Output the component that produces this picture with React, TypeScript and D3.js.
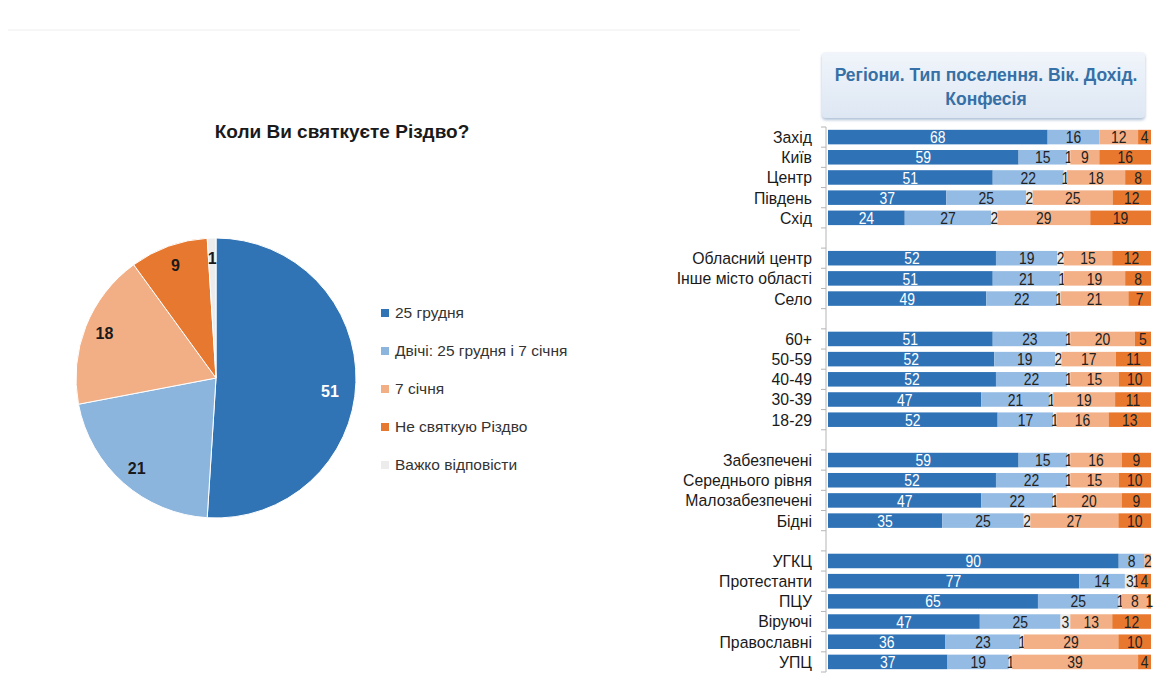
import React from 'react';
import * as d3 from 'd3';

// pie: "Коли Ви святкуєте Різдво?"
const pieLabels = ['25 грудня', 'Двічі: 25 грудня і 7 січня', '7 січня', 'Не святкую Різдво', 'Важко відповісти'];
const pieValues = [51, 21, 18, 9, 1];
const pieColors = ['#3174b5', '#8cb5de', '#f2ae85', '#e7782f', '#ececec'];

// stacked bars, null rows are the gaps between groups
const rowLabels = [
    'Захід', 'Київ', 'Центр', 'Південь', 'Схід', null,
    'Обласний центр', 'Інше місто області', 'Село', null,
    '60+', '50-59', '40-49', '30-39', '18-29', null,
    'Забезпечені', 'Середнього рівня', 'Малозабезпечені', 'Бідні', null,
    'УГКЦ', 'Протестанти', 'ПЦУ', 'Віруючі', 'Православні', 'УПЦ',
];
const dec25 = [68, 59, 51, 37, 24, null, 52, 51, 49, null, 51, 52, 52, 47, 52, null, 59, 52, 47, 35, null, 90, 77, 65, 47, 36, 37];
const twice = [16, 15, 22, 25, 27, null, 19, 21, 22, null, 23, 19, 22, 21, 17, null, 15, 22, 22, 25, null, 8, 14, 25, 25, 23, 19];
const hard = [0, 1, 1, 2, 2, null, 2, 1, 1, null, 1, 2, 1, 1, 1, null, 1, 1, 1, 2, null, 0, 3, 1, 3, 1, 1];
const jan7 = [12, 9, 18, 25, 29, null, 15, 19, 21, null, 20, 17, 15, 19, 16, null, 16, 15, 20, 27, null, 2, 1, 8, 13, 29, 39];
const notCel = [4, 16, 8, 12, 19, null, 12, 8, 7, null, 5, 11, 10, 11, 13, null, 9, 10, 9, 10, null, 0, 4, 1, 12, 10, 4];

const seriesKeys = ['dec25', 'twice', 'hard', 'jan7', 'notCel'];
const barColors = ['#2f73b6', '#94bbe3', '#e9e9e9', '#f3b086', '#e9782f'];
const headerLines = ['Регіони. Тип поселення. Вік. Дохід.', 'Конфесія'];

const W = 1168;
const H = 673;
const font = '"Liberation Sans", Arial, sans-serif';

export default function App() {
    // pie
    const cx = 216, cy = 378, r = 140;
    const pie = d3.pie<number>().sort(null).value((d) => d);
    const arcs = pie(pieValues);
    const arc = d3.arc<d3.PieArcDatum<number>>().innerRadius(0).outerRadius(r);
    const labelArc = d3.arc<d3.PieArcDatum<number>>().innerRadius(120).outerRadius(120);

    // bars
    const rows = rowLabels.map((label, i) => ({
        i, label,
        dec25: dec25[i] ?? 0, twice: twice[i] ?? 0, hard: hard[i] ?? 0,
        jan7: jan7[i] ?? 0, notCel: notCel[i] ?? 0,
    }));
    const filled = rows.filter((d) => d.label !== null);
    const stack = d3.stack<any>().keys(seriesKeys).offset(d3.stackOffsetExpand);
    const layers = stack(filled);

    const y = d3.scaleBand<number>()
        .domain(rows.map((d) => d.i))
        .range([127, 672])
        .paddingInner(0.28)
        .paddingOuter(0.14);
    const x = d3.scaleLinear().domain([0, 1]).range([828, 1151]);
    const axisX = 826;
    const step = y.step();
    const boundaries = d3.range(rows.length + 1).map((k) => 127 + k * step);

    return (
        <svg width={W} height={H} style={{ position: 'absolute', left: 0, top: 0, background: '#fff' }}>
            <defs>
                <linearGradient id="hdr" x1="0" y1="0" x2="0" y2="1">
                    <stop offset="0" stopColor="#f1f5fb" />
                    <stop offset="1" stopColor="#dde7f3" />
                </linearGradient>
                <filter id="shadow" x="-5%" y="-10%" width="110%" height="130%">
                    <feDropShadow dx="0" dy="2" stdDeviation="1.5" floodColor="#8aa4c4" floodOpacity="0.7" />
                </filter>
            </defs>

            <line x1={8} x2={800} y1={30} y2={30} stroke="#eeeeee" />

            {/* title */}
            <text x={342} y={138} textAnchor="middle" fontFamily={font} fontWeight="bold" fontSize={19} fill="#1a1a1a">
                Коли Ви святкуєте Різдво?
            </text>

            {/* pie */}
            <g transform={`translate(${cx},${cy})`}>
                {arcs.map((a, i) => (
                    <path key={i} d={arc(a) || ''} fill={pieColors[i]} stroke="#fff" strokeWidth={1} />
                ))}
                {arcs.map((a, i) => {
                    const [lx, ly] = labelArc.centroid(a);
                    return (
                        <text key={i} x={i === 0 ? lx - 6 : lx} y={i === 0 ? ly + 10 : ly} dy="0.35em" textAnchor="middle"
                            fontFamily={font} fontWeight="bold" fontSize={16}
                            fill={i === 0 ? '#ffffff' : '#1a1a1a'}>
                            {pieValues[i]}
                        </text>
                    );
                })}
            </g>

            {/* legend */}
            {pieLabels.map((lab, i) => (
                <g key={lab} transform={`translate(381,${313 + i * 38})`}>
                    <rect x={0} y={-4} width={8} height={8} fill={pieColors[i]} />
                    <text x={14} y={0} dy="0.35em" fontFamily={font} fontSize={15.5} fill="#333">{lab}</text>
                </g>
            ))}

            {/* header box */}
            <rect x={822} y={52} width={323} height={66} rx={4} fill="url(#hdr)" filter="url(#shadow)" />
            {headerLines.map((t, i) => (
                <text key={i} x={986} y={81 + i * 24} textAnchor="middle" fontFamily={font} fontWeight="bold"
                    fontSize={17.5} fill="#3670a6">{t}</text>
            ))}

            {/* axis */}
            <line x1={axisX} x2={axisX} y1={127} y2={672} stroke="#b5b5b5" />
            {boundaries.map((b, k) => (
                <line key={k} x1={axisX - 5} x2={axisX} y1={b} y2={b} stroke="#b5b5b5" />
            ))}
            {filled.map((d) => (
                <text key={d.i} transform={`translate(812,${(y(d.i) || 0) + y.bandwidth() / 2}) scale(0.93,1)`}
                    dy="0.35em" textAnchor="end"
                    fontFamily={font} fontSize={17} fill="#1a1a1a">{d.label}</text>
            ))}

            {/* bars */}
            {layers.map((layer, li) => (
                <g key={layer.key}>
                    {layer.map((seg, j) => {
                        const row = filled[j];
                        const v = (row as any)[layer.key] as number;
                        const x0 = x(seg[0]);
                        const x1 = x(seg[1]);
                        const yy = y(row.i) || 0;
                        return (
                            <g key={j}>
                                <rect x={x0} y={yy} width={Math.max(0, x1 - x0)} height={y.bandwidth()} fill={barColors[li]} />
                                {v > 0 && (
                                    <text transform={`translate(${(x0 + x1) / 2},${yy + y.bandwidth() / 2}) scale(0.82,1)`}
                                        dy="0.36em" textAnchor="middle"
                                        fontFamily={font} fontSize={17} fill={li === 0 ? '#ffffff' : '#222'}>
                                        {v}
                                    </text>
                                )}
                            </g>
                        );
                    })}
                </g>
            ))}
        </svg>
    );
}
